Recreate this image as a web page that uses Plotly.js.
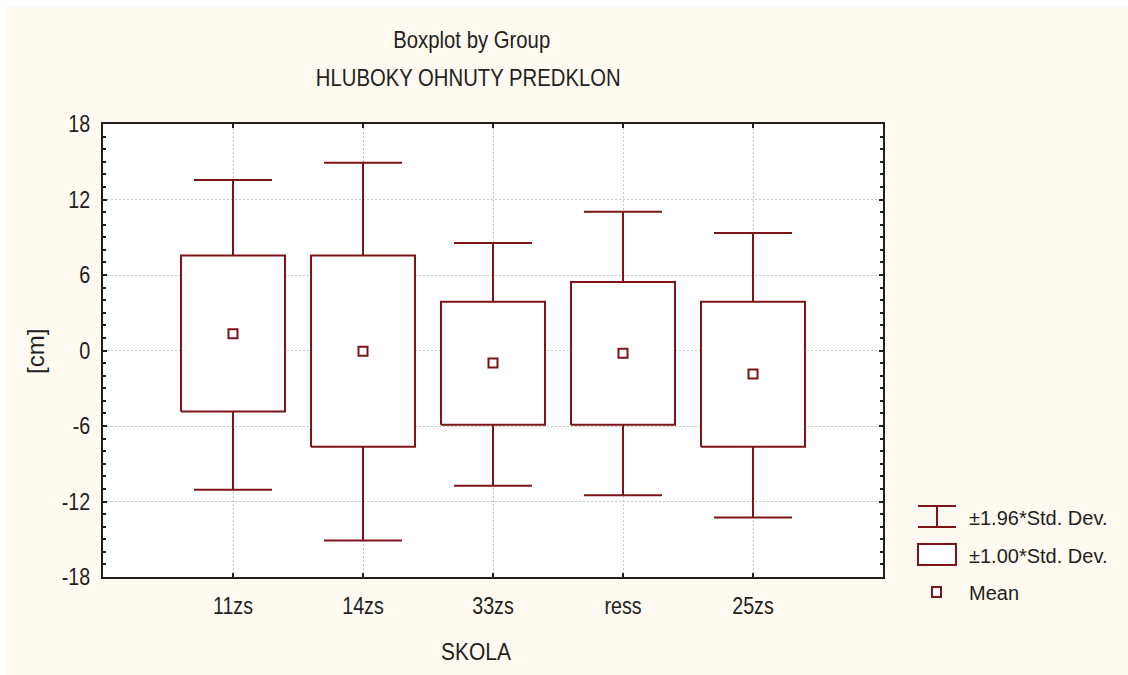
<!DOCTYPE html>
<html>
<head>
<meta charset="utf-8">
<script src="https://cdn.plot.ly/plotly-3.0.1.min.js"></script>
<style>
  html, body { margin: 0; padding: 0; background: #ffffff; }
  #chart { width: 1128px; height: 675px; }
</style>
</head>
<body>
<div id="chart"></div>
<script>
// Schools and the statistics of the forward bend test [cm]
const categories = ['11zs', '14zs', '33zs', 'ress', '25zs'];
const means      = [1.34, -0.05, -1.0, -0.22, -1.87];
const sd1Low     = [-4.84, -7.64, -5.9, -5.9, -7.64];
const sd1High    = [7.54, 7.54, 3.87, 5.45, 3.87];
const sd196Low   = [-11.06, -15.1, -10.74, -11.5, -13.28];
const sd196High  = [13.55, 14.92, 8.55, 11.03, 9.34];

const yTickVals  = [-18, -12, -6, 0, 6, 12, 18];
const yTickText  = ['-18', '-12', '-6', '0', '6', '12', '18'];

const legendLabels = ['±1.96*Std. Dev.', '±1.00*Std. Dev.', 'Mean'];

const RED = '#7f1418';
const INK = '#231f20';
const FONT = 'Liberation Sans, Arial, sans-serif';

const W = 1128, H = 675;
const M = { l: 103, r: 245, t: 124, b: 98 };
const plotW = W - M.l - M.r, plotH = H - M.t - M.b;
// pixel -> paper coordinates, for the decorations around the plot
const px = x => (x - M.l) / plotW;
const py = y => (H - M.b - y) / plotH;

const pos = categories.map((_, i) => i + 1);
const boxHalf = 0.4, capHalf = 0.3;

// ±1.00 SD boxes as closed outlines
const boxX = [], boxY = [];
pos.forEach((p, i) => {
  boxX.push(p - boxHalf, p + boxHalf, p + boxHalf, p - boxHalf, p - boxHalf, null);
  boxY.push(sd1Low[i], sd1Low[i], sd1High[i], sd1High[i], sd1Low[i], null);
});

// ±1.96 SD whiskers with caps
const whX = [], whY = [];
pos.forEach((p, i) => {
  whX.push(p, p, null, p - capHalf, p + capHalf, null);
  whY.push(sd1High[i], sd196High[i], null, sd196High[i], sd196High[i], null);
  whX.push(p, p, null, p - capHalf, p + capHalf, null);
  whY.push(sd1Low[i], sd196Low[i], null, sd196Low[i], sd196Low[i], null);
});

const traces = [
  { type: 'scatter', mode: 'lines', x: whX, y: whY, connectgaps: false,
    line: { color: RED, width: 2 }, hoverinfo: 'skip', showlegend: false },
  { type: 'scatter', mode: 'lines', x: boxX, y: boxY, connectgaps: false,
    fill: 'toself', fillcolor: '#ffffff',
    line: { color: RED, width: 2 }, hoverinfo: 'skip', showlegend: false },
  { type: 'scatter', mode: 'markers', x: pos, y: means,
    marker: { symbol: 'square-open', size: 9, color: RED, line: { color: RED, width: 2 } },
    showlegend: false }
];

const axisCommon = {
  showline: true, linecolor: INK, linewidth: 2, mirror: 'allticks',
  ticks: 'inside', ticklen: 4, tickwidth: 2, tickcolor: INK,
  showgrid: true, gridcolor: '#c4c4c4', gridwidth: 1, griddash: '1.5px,2.5px',
  zeroline: false, fixedrange: true,
  tickfont: { family: FONT, size: 24, color: INK }
};

const shapes = [
  // white margin at top and left
  { type: 'rect', xref: 'paper', yref: 'paper', x0: px(0), x1: px(W), y0: py(0), y1: py(7),
    fillcolor: '#ffffff', line: { width: 0 }, layer: 'above' },
  { type: 'rect', xref: 'paper', yref: 'paper', x0: px(0), x1: px(6), y0: py(0), y1: py(H),
    fillcolor: '#ffffff', line: { width: 0 }, layer: 'above' },
  // legend: whisker glyph
  { type: 'line', xref: 'paper', yref: 'paper', x0: px(918), x1: px(956), y0: py(506), y1: py(506),
    line: { color: RED, width: 2 } },
  { type: 'line', xref: 'paper', yref: 'paper', x0: px(918), x1: px(956), y0: py(527), y1: py(527),
    line: { color: RED, width: 2 } },
  { type: 'line', xref: 'paper', yref: 'paper', x0: px(937), x1: px(937), y0: py(506), y1: py(527),
    line: { color: RED, width: 2 } },
  // legend: box glyph
  { type: 'rect', xref: 'paper', yref: 'paper', x0: px(918), x1: px(956), y0: py(544), y1: py(565),
    fillcolor: '#ffffff', line: { color: RED, width: 2 } },
  // legend: mean glyph
  { type: 'rect', xref: 'paper', yref: 'paper', x0: px(932), x1: px(941), y0: py(587), y1: py(597),
    fillcolor: '#ffffff', line: { color: RED, width: 2 } }
];

const ann = (text, x, y, extra) => Object.assign({
  text, xref: 'paper', yref: 'paper', x: px(x), y: py(y), showarrow: false,
  xanchor: 'center', yanchor: 'middle',
  font: { family: FONT, size: 24, color: INK }
}, extra || {});

const legendFont = { family: FONT, size: 20, color: INK };

const annotations = [
  ann('Boxplot by Group', 471, 40),
  ann('HLUBOKY OHNUTY PREDKLON', 468, 78),
  ann('SKOLA', 476, 651),
  ann('[cm]', 35, 352, { textangle: -90 }),
  ann(legendLabels[0], 967, 518, { xanchor: 'left', align: 'left', font: legendFont }),
  ann(legendLabels[1], 967, 556, { xanchor: 'left', align: 'left', font: legendFont }),
  ann(legendLabels[2], 967, 593, { xanchor: 'left', align: 'left', font: legendFont })
];

const layout = {
  width: W, height: H,
  margin: M,
  paper_bgcolor: '#fefaf1',
  plot_bgcolor: '#ffffff',
  showlegend: false,
  xaxis: Object.assign({}, axisCommon, {
    range: [0, 6], tickmode: 'array', tickvals: pos, ticktext: categories,
    ticklabelstandoff: 6
  }),
  yaxis: Object.assign({}, axisCommon, {
    range: [-18, 18], tickmode: 'array', tickvals: yTickVals, ticktext: yTickText,
    ticklabelstandoff: 6,
    minor: { tickmode: 'linear', dtick: 1, ticks: 'inside', ticklen: 3, tickwidth: 2, tickcolor: INK, showgrid: false }
  }),
  shapes, annotations
};

// narrow typeface look: condense the glyphs horizontally, keeping each anchor
const condense = {
  'Boxplot by Group': 157,
  'HLUBOKY OHNUTY PREDKLON': 305,
  'SKOLA': 70,
  '±1.96*Std. Dev.': 143,
  '±1.00*Std. Dev.': 143,
  'Mean': 52
};
function narrowText(gd) {
  gd.querySelectorAll('svg text').forEach(t => {
    const s = t.textContent;
    if (!s || s === '[cm]') return;
    const w = t.getComputedTextLength();
    if (!w) return;
    const target = condense[s] !== undefined ? Math.min(condense[s], w) : w * 0.82;
    t.setAttribute('textLength', target.toFixed(1));
    t.setAttribute('lengthAdjust', 'spacingAndGlyphs');
  });
}

Plotly.newPlot('chart', traces, layout, { displayModeBar: false, staticPlot: true })
  .then(gd => narrowText(gd));
</script>
</body>
</html>
